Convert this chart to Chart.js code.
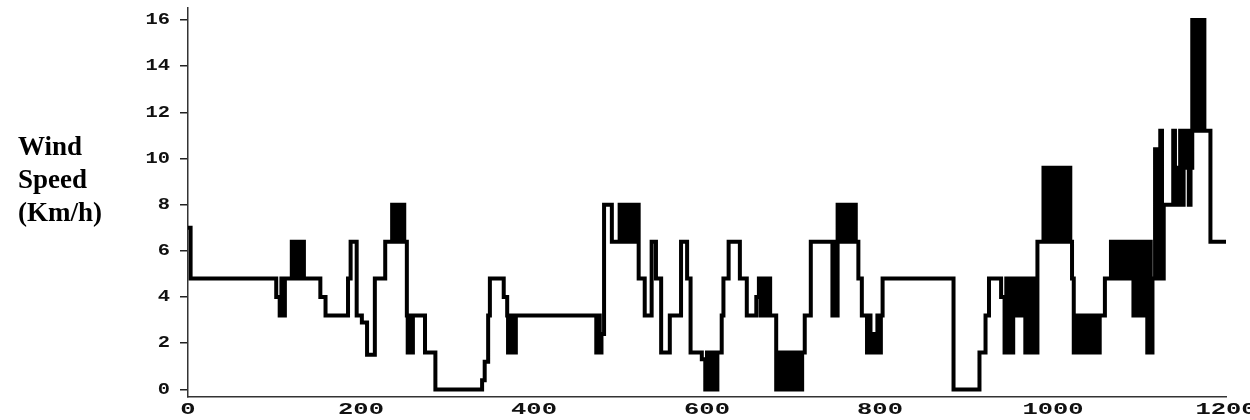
<!DOCTYPE html>
<html>
<head>
<meta charset="utf-8">
<script src="https://cdn.jsdelivr.net/npm/chart.js@4.4.1/dist/chart.umd.min.js"></script>
<style>
  html, body { margin: 0; padding: 0; background: #fff; overflow: hidden; }
  #wrap { position: relative; width: 1250px; height: 420px; }
  #ytitle {
    position: absolute; left: 18px; top: 130px;
    font: bold 27px "Liberation Serif", serif; line-height: 33px; color: #000;
  }
  canvas { position: absolute; left: 0; top: 0; }
</style>
</head>
<body>
<div id="wrap">
  <canvas id="c" width="1250" height="420"></canvas>
  <div id="ytitle">Wind<br>Speed<br>(Km/h)</div>
</div>
<script>
// time (x) at which each new wind-speed level starts
const timeSteps = [
  0,3,102,106,108,110,112,120,122,124,126,128,130,132,134,153,159,185,188,195,201,207,216,228,236,238,240,242,244,246,248,250,253,254,256,258,260,274,286,
  340,343,347,349,365,369,370,372,374,376,378,379,
  472,474,476,478,481,490,499,501,503,505,507,509,511,513,515,517,519,521,528,536,541,547,557,570,577,581,594,
  598,600,602,604,606,608,610,612,617,619,625,638,646,657,660,662,664,666,668,670,672,673,
  680,682,684,686,688,690,692,694,696,698,700,702,704,706,708,710,713,720,745,747,749,751,753,755,757,759,761,763,765,767,769,771,772,775,779,785,787,789,791,795,797,799,801,803,
  885,915,922,926,940,944,946,948,950,952,954,956,958,960,962,964,966,968,970,972,974,976,978,980,982,
  989,991,993,995,998,1000,1002,1004,1006,1008,1010,1012,1014,1016,1018,1020,1022,1024,1026,1028,1030,1032,1034,1036,1038,1040,1042,1044,1046,1048,1050,1052,1054,1060,
  1067,1069,1071,1073,1075,1077,1079,1081,1083,1085,1087,1089,1091,1093,1095,1097,1099,1101,1103,1105,1107,1109,1111,1113,1115,1118,1120,1124,1126,1128,1139,1141,1143,1145,1147,1149,1151,1153,1155,1157,1159,1161,1163,1165,1167,1169,1171,1173,1175,1182,1200
];
// wind speed (Km/h) level starting at each time above
const windSpeed = [
  7,4.8,4.0,3.2,4.8,3.2,4.8,6.4,4.8,6.4,4.8,6.4,4.8,6.4,4.8,4.0,3.2,4.8,6.4,3.2,2.9,1.5,4.8,6.4,8,6.4,8,6.4,8,6.4,8,6.4,3.2,1.6,3.2,1.6,3.2,1.6,0,
  0.4,1.2,3.2,4.8,4.0,3.2,1.6,3.2,1.6,3.2,1.6,3.2,
  1.6,3.2,1.6,2.4,8,6.4,8,6.4,8,6.4,8,6.4,8,6.4,8,6.4,8,4.8,3.2,6.4,4.8,1.6,3.2,6.4,4.8,1.6,1.3,
  0,1.6,0,1.6,0,1.6,0,1.6,3.2,4.8,6.4,4.8,3.2,4.0,4.8,3.2,4.8,3.2,4.8,3.2,4.8,3.2,
  0,1.6,0,1.6,0,1.6,0,1.6,0,1.6,0,1.6,0,1.6,0,1.6,3.2,6.4,3.2,6.4,3.2,8,6.4,8,6.4,8,6.4,8,6.4,8,6.4,8,6.4,4.8,3.2,1.6,3.2,1.6,2.4,1.6,3.2,1.6,3.2,4.8,
  0,1.6,3.2,4.8,4.0,1.6,4.8,1.6,4.8,1.6,4.8,3.2,4.8,3.2,4.8,3.2,4.8,1.6,4.8,1.6,4.8,1.6,4.8,1.6,6.4,
  9.6,6.4,9.6,6.4,9.6,6.4,9.6,6.4,9.6,6.4,9.6,6.4,9.6,6.4,9.6,6.4,4.8,1.6,3.2,1.6,3.2,1.6,3.2,1.6,3.2,1.6,3.2,1.6,3.2,1.6,3.2,1.6,3.2,4.8,
  6.4,4.8,6.4,4.8,6.4,4.8,6.4,4.8,6.4,4.8,6.4,4.8,6.4,3.2,6.4,3.2,6.4,3.2,6.4,3.2,6.4,1.6,6.4,1.6,4.8,10.4,4.8,11.2,4.8,8,11.2,8,9.6,8,11.2,8,11.2,9.6,11.2,8,9.6,16,11.2,16,11.2,16,11.2,16,11.2,6.4,6.4
];
const xTickValues = [0, 200, 400, 600, 800, 1000, 1200];
const yTickValues = [0, 2, 4, 6, 8, 10, 12, 14, 16];

if (timeSteps.length !== windSpeed.length) {
  console.error('length mismatch', timeSteps.length, windSpeed.length);
}
const points = timeSteps.map((t, i) => ({ x: t, y: windSpeed[i] }));

const wideTickLabels = {
  id: 'wideTickLabels',
  afterDraw(chart) {
    const { ctx } = chart;
    const xs = chart.scales.x, ys = chart.scales.y;
    ctx.save();
    ctx.fillStyle = '#111';
    ctx.font = 'bold 17px "Liberation Mono", monospace';
    ctx.textBaseline = 'middle';
    ys.ticks.forEach(t => {
      const py = ys.getPixelForValue(t.value);
      ctx.save();
      ctx.translate(ys.right - 18, py);
      ctx.scale(1.2, 1);
      ctx.textAlign = 'right';
      ctx.fillText(t.label != null ? String(t.label) : String(t.value), 0, 0);
      ctx.restore();
    });
    xs.ticks.forEach(t => {
      const px = xs.getPixelForValue(t.value);
      ctx.save();
      ctx.translate(px, xs.top + 13);
      ctx.scale(1.5, 1);
      ctx.textAlign = 'center';
      ctx.fillText(t.label != null ? String(t.label) : String(t.value), 0, 0);
      ctx.restore();
    });
    ctx.restore();
  }
};

new Chart(document.getElementById('c'), {
  type: 'line',
  data: {
    datasets: [{
      data: points,
      stepped: 'before',
      borderColor: '#000',
      borderWidth: 4,
      pointRadius: 0,
      fill: false,
      tension: 0
    }]
  },
  options: {
    responsive: false,
    animation: false,
    layout: { padding: { top: 8, right: 24, left: 0, bottom: 0 } },
    plugins: { legend: { display: false }, tooltip: { enabled: false } },
    scales: {
      x: {
        type: 'linear', min: 0, max: 1200,
        afterBuildTicks: s => { s.ticks = xTickValues.map(v => ({ value: v })); },
        afterFit: s => { s.height = 23; },
        grid: { display: false },
        border: { color: '#333', width: 1.5 },
        ticks: { display: false, callback: v => String(v) }
      },
      y: {
        type: 'linear', min: -0.33, max: 16.52,
        afterBuildTicks: s => { s.ticks = yTickValues.map(v => ({ value: v })); },
        afterFit: s => { s.width = 188; },
        grid: { drawOnChartArea: false, drawTicks: true, tickLength: 8, color: '#222', lineWidth: 1.5 },
        border: { color: '#333', width: 1.5 },
        ticks: { display: false, callback: v => String(v) }
      }
    }
  },
  plugins: [wideTickLabels]
});
</script>
</body>
</html>
